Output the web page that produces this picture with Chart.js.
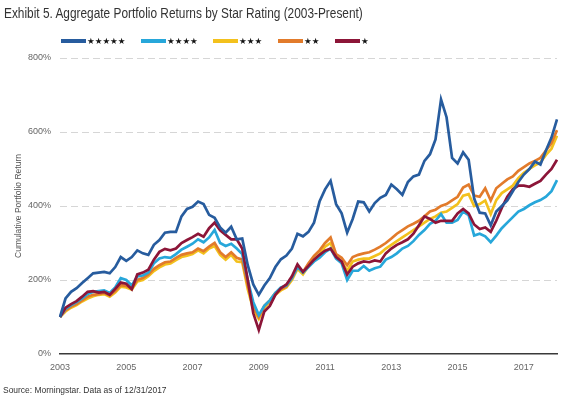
<!DOCTYPE html>
<html>
<head>
<meta charset="utf-8">
<script src="https://cdn.jsdelivr.net/npm/chart.js@4/dist/chart.umd.min.js"></script>
<style>
  html, body { margin:0; padding:0; background:#fff; }
  #wrap { position:relative; width:565px; height:399px; overflow:hidden; }
  canvas { position:absolute; left:0; top:0; }
  .title { position:absolute; left:4px; top:6px; font-family:"Liberation Sans",Arial,sans-serif; font-size:13.8px; color:#333; white-space:nowrap; transform:scaleX(0.86); transform-origin:0 0; }
  .src { position:absolute; left:3px; top:384px; font-family:"Liberation Sans",Arial,sans-serif; font-size:9.5px; color:#333; white-space:nowrap; transform:scaleX(0.89); transform-origin:0 0; }
  .lg { position:absolute; top:36px; height:10px; white-space:nowrap; }
  .lg .bar { position:absolute; left:0; top:3px; width:25px; height:4px; }
  .lg .st { position:absolute; left:26px; top:-2px; font-family:"DejaVu Sans",sans-serif; font-size:8.6px; color:#111; line-height:14px; }
</style>
</head>
<body>
<div id="wrap">
  <canvas id="c" width="565" height="399"></canvas>
  <div class="title">Exhibit 5. Aggregate Portfolio Returns by Star Rating (2003-Present)</div>
  <div id="legend"></div>
  <div class="src">Source: Morningstar. Data as of 12/31/2017</div>
</div>
<script>
// Series names (legend)
const seriesNames = ['★★★★★', '★★★★', '★★★', '★★', '★'];
const seriesColors = ['#275c9e', '#27a7da', '#f3c11d', '#e27b2b', '#8c1538'];
// Tick labels on the x axis (every two years)
const tickYears = ['2003','2005','2007','2009','2011','2013','2015','2017'];
// Categories: bi-monthly observations, Jan 2003 .. Dec 2017
const monthNames = ['Jan','Mar','May','Jul','Sep','Nov'];
const categories = [];
for (let y = 2003; y <= 2017; y++) for (const m of monthNames) categories.push(m + ' ' + y);
categories.push('Dec 2017');

// Cumulative portfolio return (%)
const star5 = [100,150,168,178,192,205,218,220,222,218,235,262,252,262,280,272,268,295,308,328,330,330,372,392,398,412,405,376,368,342,328,344,310,312,240,188,160,185,205,235,256,266,285,325,318,330,355,412,445,468,405,380,328,365,412,410,385,408,422,430,458,445,430,465,480,485,522,540,580,688,640,530,515,545,525,420,382,380,348,385,400,415,440,465,485,500,520,512,550,585,634];
const star4 = [100,122,132,140,150,162,168,170,172,165,180,205,200,185,210,212,220,245,258,262,260,270,282,290,298,310,302,315,335,300,292,298,285,270,200,140,105,130,145,165,180,185,205,235,220,235,250,260,275,285,258,245,200,225,225,238,225,232,236,255,262,272,285,292,305,322,335,352,360,378,355,355,362,385,375,320,325,318,302,320,340,355,370,385,392,402,410,416,425,440,470];
const star3 = [100,115,125,132,142,150,156,160,162,155,166,182,180,174,196,200,210,224,234,242,245,254,262,266,270,280,272,285,292,268,255,268,250,248,175,120,95,125,140,160,172,180,200,230,215,238,255,270,290,300,262,250,225,250,255,258,258,265,272,285,295,305,315,325,335,345,355,365,372,382,385,395,405,428,432,400,405,415,378,416,435,445,455,475,490,500,510,518,538,555,590];
const star2 = [100,118,128,135,145,155,160,162,165,158,170,186,184,178,200,205,215,230,240,248,250,260,268,272,275,285,278,290,300,275,262,275,260,255,185,130,100,130,145,165,175,183,205,235,222,245,265,280,300,315,270,260,240,262,268,272,275,282,290,300,312,325,335,345,352,360,372,385,390,400,405,415,425,450,458,428,425,448,415,448,460,472,480,495,505,515,522,530,550,570,605];
const star1 = [100,125,135,143,155,168,170,166,168,160,176,193,190,175,215,220,228,255,276,284,280,285,300,308,316,325,317,340,355,334,322,310,310,285,200,110,65,115,130,160,178,188,210,242,222,238,255,268,279,285,262,250,215,236,245,250,248,253,250,272,285,295,302,310,325,348,372,365,355,360,360,360,380,392,380,350,338,342,330,360,395,425,445,455,455,452,460,468,485,500,525];
const seriesValues = [star5, star4, star3, star2, star1];

// HTML legend (positions of the reference)
const legendX = [61, 141, 213, 278, 335];
const lg = document.getElementById('legend');
seriesNames.forEach((n, i) => {
  const d = document.createElement('div');
  d.className = 'lg';
  d.style.left = legendX[i] + 'px';
  d.innerHTML = '<span class="bar" style="background:' + seriesColors[i] + '"></span><span class="st">' + n + '</span>';
  lg.appendChild(d);
});

const sans = '"Liberation Sans",Arial,sans-serif';
new Chart(document.getElementById('c'), {
  type: 'line',
  data: {
    labels: categories,
    datasets: seriesValues.map((vals, i) => ({
      label: seriesNames[i],
      data: vals,
      borderColor: seriesColors[i],
      backgroundColor: seriesColors[i],
      borderWidth: 2.7,
      pointRadius: 0,
      tension: 0,
      order: [0, 2, 4, 3, 1][i]
    }))
  },
  options: {
    responsive: false,
    animation: false,
    devicePixelRatio: 1,
    layout: { padding: { top: 58, right: 8, left: 0, bottom: 0 } },
    plugins: { legend: { display: false }, tooltip: { enabled: false } },
    scales: {
      x: {
        type: 'category',
        grid: { display: false },
        border: { display: true, color: '#3a3a3a', width: 1.5 },
        ticks: {
          autoSkip: false, maxRotation: 0, minRotation: 0, padding: 0,
          color: '#666', font: { family: sans, size: 9 },
          callback: function(v, idx) { return idx % 12 === 0 ? tickYears[idx / 12] : null; }
        },
        afterFit: function(s) { s.height = 45; }
      },
      y: {
        min: 0, max: 800,
        grid: { color: function(ctx) { return ctx.tick && ctx.tick.value === 0 ? 'rgba(0,0,0,0)' : '#d6d6d6'; }, drawTicks: false, lineWidth: 1 },
        border: { display: false, dash: [7, 4] },
        ticks: {
          stepSize: 200, padding: 9, color: '#666',
          font: { family: sans, size: 9 },
          callback: function(v) { return v + '%'; }
        },
        title: {
          display: true, text: 'Cumulative Portfolio Return', color: '#555',
          font: { family: sans, size: 8.5 }, padding: { top: 14, bottom: 0 }
        },
        afterFit: function(s) { s.width = 60; }
      }
    }
  }
});
</script>
</body>
</html>
